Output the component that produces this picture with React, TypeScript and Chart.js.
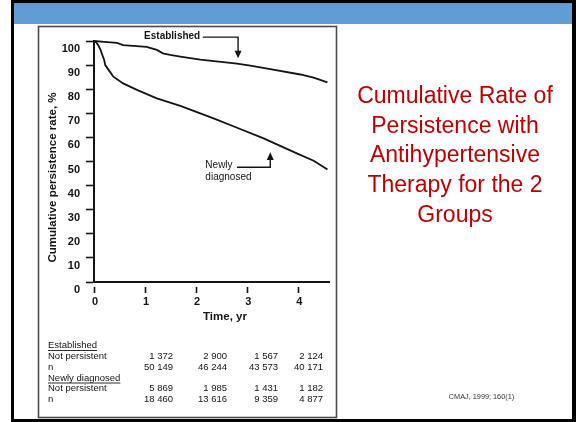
import React, { useEffect, useRef } from "react";
import { Chart, registerables } from "chart.js";

Chart.register(...registerables);

// ---- data ----
const yearTicks = [0, 1, 2, 3, 4];
const rateTicks = [0, 10, 20, 30, 40, 50, 60, 70, 80, 90, 100];

const estYears = [0, 0.2, 0.45, 0.57, 1.03, 1.23, 1.35, 1.49, 1.69, 2.08, 2.8, 3.06, 3.45, 4.04, 4.3, 4.57];
const estRate = [100, 99.6, 99.2, 98.3, 97.6, 96.3, 94.9, 94.2, 93.5, 92.3, 90.6, 89.8, 88.3, 86.1, 84.8, 82.8];

const newYears = [0, 0.04, 0.08, 0.13, 0.15, 0.2, 0.22, 0.31, 0.38, 0.57, 0.84, 1.23, 1.69, 2.34, 2.8, 3.32, 3.97, 4.3, 4.57];
const newRate = [100, 99.5, 98.3, 96.3, 94.9, 92.1, 90, 87.3, 85.2, 82.4, 79.7, 76.2, 73.1, 67.9, 64.0, 59.6, 53.4, 50.3, 46.7];

const seriesNames = ["Established", "Newly diagnosed"];
const rowLabels = ["Not persistent", "n"];
const estNotPersistent = ["1 372", "2 900", "1 567", "2 124"];
const estN = ["50 149", "46 244", "43 573", "40 171"];
const newNotPersistent = ["5 869", "1 985", "1 431", "1 182"];
const newN = ["18 460", "13 616", "9 359", "4 877"];

const titleLines = [
  "Cumulative Rate of",
  "Persistence with",
  "Antihypertensive",
  "Therapy for the 2",
  "Groups",
];
const yTitle = "Cumulative persistence rate, %";
const xTitle = "Time, yr";
const citation = "CMAJ, 1999; 160(1)";

const FONT = "'Liberation Sans', Arial, sans-serif";
const INK = "#141414";

const slidePlugin = {
  id: "slide",
  beforeDraw(chart: any) {
    const ctx = chart.ctx;
    ctx.save();
    ctx.fillStyle = "#ffffff";
    ctx.fillRect(0, 0, 576, 422);
    // black frame
    ctx.fillStyle = "#000000";
    ctx.fillRect(11, 0, 565, 3.5);
    ctx.fillRect(11, 0, 3, 422);
    ctx.fillRect(572, 0, 4, 422);
    ctx.fillRect(11, 419, 565, 3);
    // blue header bar
    ctx.fillStyle = "#619DD2";
    ctx.fillRect(14, 3.5, 558, 20.5);
    // scanned figure box
    ctx.strokeStyle = "#4a4a4a";
    ctx.lineWidth = 1.6;
    ctx.strokeRect(38.5, 26.5, 298, 391);
    ctx.restore();
  },
  afterDraw(chart: any) {
    const ctx = chart.ctx;
    const xs = chart.scales.x;
    const ys = chart.scales.y;
    const px = (t: number) => xs.getPixelForValue(t);
    const py = (v: number) => ys.getPixelForValue(v);
    ctx.save();
    ctx.fillStyle = INK;
    ctx.strokeStyle = INK;

    // ---- annotations ----
    // Established
    ctx.font = `bold 10px ${FONT}`;
    ctx.textAlign = "center";
    ctx.textBaseline = "middle";
    ctx.fillText(seriesNames[0], px(1.53), py(101.9));
    ctx.lineWidth = 1.4;
    ctx.beginPath();
    ctx.moveTo(px(2.13), py(101.6));
    ctx.lineTo(px(2.82), py(101.6));
    ctx.lineTo(px(2.82), py(95));
    ctx.stroke();
    ctx.beginPath();
    ctx.moveTo(px(2.82) - 3.5, py(96.0));
    ctx.lineTo(px(2.82) + 3.5, py(96.0));
    ctx.lineTo(px(2.82), py(92.8));
    ctx.closePath();
    ctx.fill();

    // Newly diagnosed
    ctx.font = `10px ${FONT}`;
    ctx.textAlign = "left";
    ctx.fillText("Newly", px(2.18), py(48.4));
    ctx.fillText("diagnosed", px(2.18), py(43.4));
    ctx.beginPath();
    ctx.moveTo(px(2.8), py(47.6));
    ctx.lineTo(px(3.45), py(47.6));
    ctx.lineTo(px(3.45), py(51.5));
    ctx.stroke();
    ctx.beginPath();
    ctx.moveTo(px(3.45) - 3.5, py(50.6));
    ctx.lineTo(px(3.45) + 3.5, py(50.6));
    ctx.lineTo(px(3.45), py(53.8));
    ctx.closePath();
    ctx.fill();

    // ---- axis titles ----
    ctx.save();
    ctx.translate(53, 177.5);
    ctx.rotate(-Math.PI / 2);
    ctx.font = `bold 11.5px ${FONT}`;
    ctx.textAlign = "center";
    ctx.textBaseline = "middle";
    const w = ctx.measureText(yTitle).width;
    ctx.scale(170 / w, 1);
    ctx.fillText(yTitle, 0, 0);
    ctx.restore();

    ctx.font = `bold 11.5px ${FONT}`;
    ctx.textAlign = "center";
    ctx.textBaseline = "middle";
    ctx.fillText(xTitle, 225, 317);

    // ---- table ----
    const rows: [string, string[] | null, boolean][] = [
      [seriesNames[0], null, true],
      [rowLabels[0], estNotPersistent, false],
      [rowLabels[1], estN, false],
      [seriesNames[1], null, true],
      [rowLabels[0], newNotPersistent, false],
      [rowLabels[1], newN, false],
    ];
    const rowY = [345.5, 356.5, 367, 378, 388.5, 399];
    const colRight = [173, 227, 278, 323];
    ctx.font = `9.5px ${FONT}`;
    ctx.textBaseline = "middle";
    ctx.lineWidth = 0.9;
    rows.forEach((r, i) => {
      ctx.textAlign = "left";
      ctx.fillText(r[0], 48, rowY[i]);
      if (r[2]) {
        const tw = ctx.measureText(r[0]).width;
        ctx.beginPath();
        ctx.moveTo(48, rowY[i] + 5);
        ctx.lineTo(48 + tw, rowY[i] + 5);
        ctx.stroke();
      }
      if (r[1]) {
        ctx.textAlign = "right";
        r[1].forEach((s, j) => ctx.fillText(s, colRight[j], rowY[i]));
      }
    });

    // ---- slide title ----
    ctx.fillStyle = "#C00000";
    ctx.font = `23px ${FONT}`;
    ctx.textAlign = "center";
    ctx.textBaseline = "alphabetic";
    titleLines.forEach((l, i) => ctx.fillText(l, 455, 102.7 + i * 29.8));

    // citation
    ctx.fillStyle = "#333333";
    ctx.font = `7.3px ${FONT}`;
    ctx.fillText(citation, 481.5, 399);
    ctx.restore();
  },
};

export default function App() {
  const ref = useRef<HTMLCanvasElement | null>(null);
  useEffect(() => {
    const canvas = ref.current;
    if (!canvas) return;
    const chart = new Chart(canvas, {
      type: "line",
      data: {
        datasets: [
          {
            label: seriesNames[0],
            data: estYears.map((x, i) => ({ x, y: estRate[i] })),
            borderColor: INK,
            borderWidth: 1.8,
            pointRadius: 0,
            fill: false,
            tension: 0,
            clip: false,
          },
          {
            label: seriesNames[1],
            data: newYears.map((x, i) => ({ x, y: newRate[i] })),
            borderColor: INK,
            borderWidth: 1.8,
            pointRadius: 0,
            fill: false,
            tension: 0,
            clip: false,
          },
        ],
      },
      options: {
        responsive: false,
        animation: false,
        devicePixelRatio: 1,
        layout: { padding: { left: 54, right: 247, top: 41, bottom: 100 } },
        plugins: { legend: { display: false }, tooltip: { enabled: false } },
        scales: {
          x: {
            type: "linear",
            min: 0,
            max: 4.6,
            afterBuildTicks: (s: any) => {
              s.ticks = yearTicks.map((v) => ({ value: v }));
            },
            afterFit: (s: any) => {
              s.height = 40;
            },
            grid: {
              drawOnChartArea: false,
              drawTicks: true,
              tickLength: 11,
              tickWidth: 1.6,
              tickColor: INK,
              color: INK,
              tickBorderDash: [6, 4],
              tickBorderDashOffset: 6,
            },
            border: { display: true, color: INK, width: 2 },
            ticks: {
              color: INK,
              font: { family: FONT, size: 11, weight: "bold" },
              padding: 2,
              maxRotation: 0,
              autoSkip: false,
              labelOffset: 1,
            },
          },
          y: {
            min: 0,
            max: 100,
            afterBuildTicks: (s: any) => {
              s.ticks = rateTicks.map((v) => ({ value: v }));
            },
            afterFit: (s: any) => {
              s.width = 40;
            },
            grid: {
              drawOnChartArea: false,
              drawTicks: true,
              tickLength: 8,
              tickWidth: 1.6,
              tickColor: INK,
              color: INK,
            },
            border: { display: true, color: INK, width: 2 },
            ticks: {
              color: INK,
              font: { family: FONT, size: 11, weight: "bold" },
              padding: 6,
              labelOffset: 8,
              autoSkip: false,
            },
          },
        },
      },
      plugins: [slidePlugin],
    } as any);
    return () => chart.destroy();
  }, []);
  return (
    <div style={{ position: "fixed", left: 0, top: 0, width: 576, height: 422 }}>
      <canvas ref={ref} width={576} height={422} style={{ display: "block" }} />
    </div>
  );
}
